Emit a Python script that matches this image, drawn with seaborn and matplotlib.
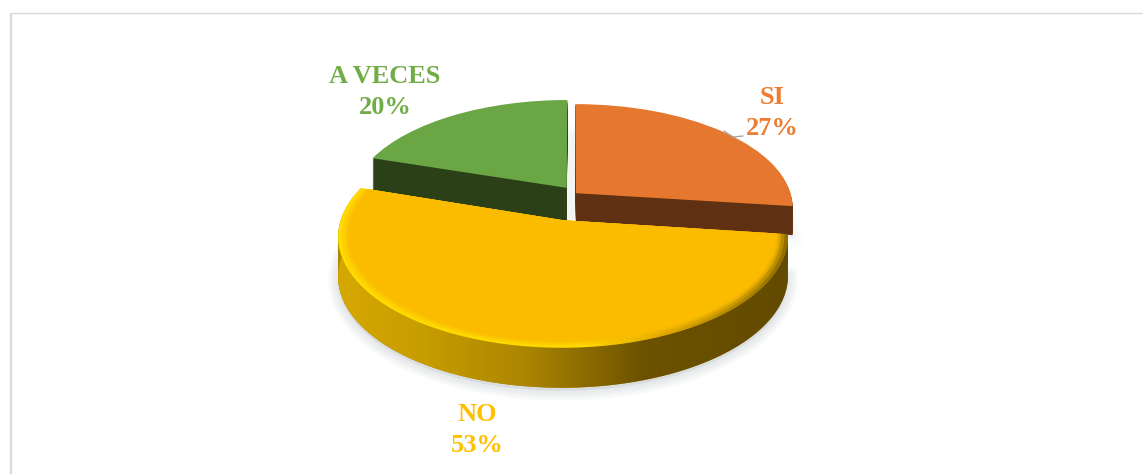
import matplotlib
matplotlib.use('Agg')
import matplotlib.pyplot as plt
import matplotlib.transforms as mtransforms
import numpy as np
import seaborn as sns
from matplotlib.colors import LinearSegmentedColormap
from matplotlib.patches import PathPatch, Wedge
from matplotlib.path import Path

categories = ['SI', 'NO', 'A VECES']
values = [27, 53, 20]

top_colors = ['#e5782e', '#fbbc00', '#6ba644']
side_colors = ['#5f3112', '#b08a00', '#2b4016']
label_colors = ['#ed7d31', '#ffc000', '#70ad47']
label_xy = [(772, 113), (477, 430), (385, 92)]

# pull of each slice on the disk, and its height in pixels
offsets = [(0.023, 0.047), (-0.035, -0.21), (-0.02, 0.10)]
depths = [29, 40, 35]

# perspective of the disk
CX, CY = 571, 198
SX, SY = 216, 102.8
K = 0.14

WIDTH, HEIGHT = 1143, 474


def project(uv, drop=0):
    uv = np.asarray(uv, dtype=float)
    w = 1 + K * uv[:, 1]
    return np.column_stack([CX + SX * uv[:, 0] / w, CY - SY * uv[:, 1] / w + drop])


class DiskTransform(mtransforms.Transform):
    input_dims = 2
    output_dims = 2
    is_affine = False

    def __init__(self, drop=0):
        super().__init__()
        self.drop = drop

    def transform_non_affine(self, values):
        return project(values, self.drop)


def rim_band(center, theta1, theta2, drop):
    t = np.radians(np.linspace(theta1, theta2, 200))
    arc = np.column_stack([center[0] + np.cos(t), center[1] + np.sin(t)])
    pts = np.vstack([project(arc), project(arc, drop)[::-1]])
    return Path(np.vstack([pts, pts[:1]]), closed=True)


sns.set_theme(style='white')
fig = plt.figure(figsize=(WIDTH / 100, HEIGHT / 100), dpi=100)
ax = fig.add_axes([0, 0, 1, 1])

wedges, _ = ax.pie(values, startangle=90, counterclock=False, colors=top_colors, radius=1)


def add_layer(wedge, center, radius, color, drop=0, zorder=1, **kw):
    p = Wedge(center, radius, wedge.theta1, wedge.theta2, facecolor=color, **kw)
    p.set_transform(DiskTransform(drop) + ax.transData)
    p.set_zorder(zorder)
    ax.add_patch(p)
    return p


rim_cmap = LinearSegmentedColormap.from_list('rim', [
    (0.0, '#d6a800'), (0.2, '#c79c00'), (0.42, '#ab8500'), (0.68, '#6c5200'), (1.0, '#624a00')])
bevel_cmap = LinearSegmentedColormap.from_list('bevel', [
    (0.0, '#ffdc00'), (0.55, '#ffd800'), (0.72, '#e0a800'), (1.0, '#8f6d00')])
grad = np.linspace(0, 1, 256)[None, :]

for i, wedge in enumerate(wedges):
    center = offsets[i]
    depth = depths[i]
    is_front = categories[i] == 'NO'
    z = 20 if is_front else 10

    wedge.set_center(center)
    wedge.set_transform(DiskTransform() + ax.transData)
    wedge.set_edgecolor('none')
    wedge.set_zorder(z + 5)

    # soft shadow, only the front slice throws a clear one
    shadow_alpha = 0.12 if is_front else 0.04
    for lw in [14, 10, 7, 4]:
        add_layer(wedge, center, 1, '#c9ced3', drop=depth + 3, zorder=z - 5,
                  edgecolor='#c9ced3', linewidth=lw, alpha=shadow_alpha)

    # side walls, stacked from the bottom up
    for d in np.arange(depth, 0, -1):
        add_layer(wedge, center, 1, side_colors[i], drop=d, zorder=z, edgecolor='none')

    if is_front:
        band = rim_band(center, wedge.theta1, wedge.theta2, depth)
        x0, x1 = 335, 790
        clip = PathPatch(band, transform=ax.transData, facecolor='none', edgecolor='none')
        ax.add_patch(clip)
        im = ax.imshow(grad, extent=(x0, x1, 400, 180), cmap=rim_cmap, aspect='auto', zorder=z + 1)
        im.set_clip_path(clip)

        # bevel on the outer edge of the top face
        outer = add_layer(wedge, center, 1, 'none', zorder=z + 2, edgecolor='none')
        im2 = ax.imshow(grad, extent=(x0, x1, 400, 180), cmap=bevel_cmap, aspect='auto', zorder=z + 3)
        im2.set_clip_path(outer)
        for r, a in [(0.985, 0.35), (0.97, 0.5), (0.96, 0.7)]:
            add_layer(wedge, center, r, top_colors[i], zorder=z + 4, edgecolor='none', alpha=a)
        wedge.set_radius(0.95)

# thin leader line of the SI label
ax.plot([724, 733, 743], [131, 137, 136], color='#a6a6a6', lw=1, zorder=30)

for name, val, color, (x, y) in zip(categories, values, label_colors, label_xy):
    ax.text(x, y, f'{name}\n{val}%', color=color, ha='center', va='center', family='Liberation Serif',
            fontweight='bold', fontsize=19, linespacing=1.4, zorder=30)

# chart frame, only the left and top sides are in the picture
ax.plot([11, 11], [HEIGHT, 12.5], color='#d9d9d9', lw=1.6, zorder=0, solid_capstyle='butt')
ax.plot([11, WIDTH], [12.5, 12.5], color='#d9d9d9', lw=1.0, zorder=0, solid_capstyle='butt')

ax.set_aspect('auto')
ax.set_xlim(0, WIDTH)
ax.set_ylim(HEIGHT, 0)
ax.axis('off')

fig.savefig('out.png', dpi=100, facecolor='white')
